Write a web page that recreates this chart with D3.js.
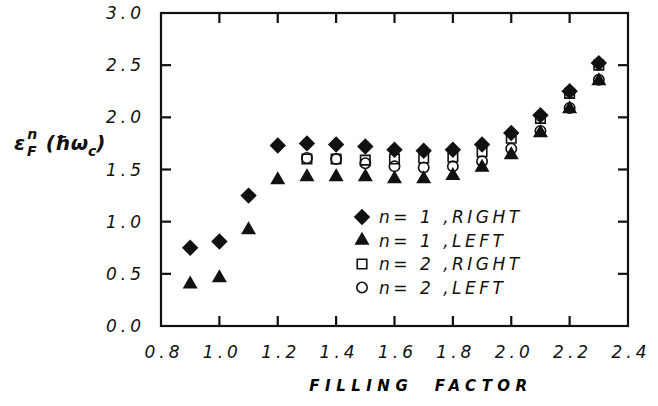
<!DOCTYPE html>
<html>
<head>
<meta charset="utf-8">
<script src="https://d3js.org/d3.v7.min.js"></script>
<style>
  body { margin: 0; background: white; }
  .tick-label { font-family: "DejaVu Sans", sans-serif; font-style: italic; font-size: 17px; letter-spacing: 4px; fill: #111; }
  .legend-text { font-family: "DejaVu Sans", sans-serif; font-style: italic; font-size: 17px; letter-spacing: 3.5px; fill: #111; }
  .frame { fill: none; stroke: #111; stroke-width: 2.2px; }
  .tick { stroke: #111; stroke-width: 2.2px; }
</style>
</head>
<body>
<svg id="chart" width="658" height="406"></svg>
<script>
  // values
  const xTicks = [0.8, 1.0, 1.2, 1.4, 1.6, 1.8, 2.0, 2.2, 2.4];
  const yTicks = [0.0, 0.5, 1.0, 1.5, 2.0, 2.5, 3.0];

  const n1Right = [[0.9,0.75],[1.0,0.81],[1.1,1.25],[1.2,1.73],[1.3,1.75],[1.4,1.74],[1.5,1.72],[1.6,1.69],
                   [1.7,1.68],[1.8,1.69],[1.9,1.74],[2.0,1.85],[2.1,2.02],[2.2,2.25],[2.3,2.52]];
  const n1Left  = [[0.9,0.40],[1.0,0.46],[1.1,0.92],[1.2,1.40],[1.3,1.43],[1.4,1.43],[1.5,1.43],[1.6,1.41],
                   [1.7,1.41],[1.8,1.44],[1.9,1.52],[2.0,1.64],[2.1,1.85],[2.2,2.08],[2.3,2.35]];
  const n2Right = [[1.3,1.60],[1.4,1.60],[1.5,1.59],[1.6,1.60],[1.7,1.61],[1.8,1.62],[1.9,1.67],[2.0,1.80],
                   [2.1,1.99],[2.2,2.23],[2.3,2.50]];
  const n2Left  = [[1.3,1.61],[1.4,1.60],[1.5,1.56],[1.6,1.53],[1.7,1.52],[1.8,1.53],[1.9,1.58],[2.0,1.70],
                   [2.1,1.87],[2.2,2.09],[2.3,2.36]];
  const legendLabels = ["n= 1 ,RIGHT", "n= 1 ,LEFT", "n= 2 ,RIGHT", "n= 2 ,LEFT"];

  const svg = d3.select("#chart");
  const pLeft = 161, pRight = 628, pTop = 13, pBottom = 326;

  const x = d3.scaleLinear().domain([0.8, 2.4]).range([pLeft, pRight]);
  const y = d3.scaleLinear().domain([0, 3]).range([pBottom, pTop]);

  // frame
  svg.append("rect").attr("class", "frame")
    .attr("x", pLeft).attr("y", pTop).attr("width", pRight - pLeft).attr("height", pBottom - pTop);

  const tl = 10;
  const g = svg.append("g");
  xTicks.slice(1, -1).forEach(v => {
    g.append("line").attr("class", "tick").attr("x1", x(v)).attr("x2", x(v)).attr("y1", pBottom).attr("y2", pBottom - tl);
    g.append("line").attr("class", "tick").attr("x1", x(v)).attr("x2", x(v)).attr("y1", pTop).attr("y2", pTop + tl);
  });
  yTicks.slice(1, -1).forEach(v => {
    g.append("line").attr("class", "tick").attr("x1", pLeft).attr("x2", pLeft + tl).attr("y1", y(v)).attr("y2", y(v));
    g.append("line").attr("class", "tick").attr("x1", pRight).attr("x2", pRight - tl).attr("y1", y(v)).attr("y2", y(v));
  });

  svg.selectAll("text.xt").data(xTicks).join("text")
    .attr("class", "tick-label")
    .attr("x", d => x(d) + 3).attr("y", 358)
    .attr("text-anchor", "middle")
    .text(d => d.toFixed(1));

  svg.selectAll("text.yt").data(yTicks).join("text")
    .attr("class", "tick-label")
    .attr("x", 145).attr("y", d => y(d) + 6)
    .attr("text-anchor", "end")
    .text(d => d.toFixed(1));

  // axis titles
  svg.append("text")
    .attr("x", 421).attr("y", 391)
    .attr("text-anchor", "middle")
    .style("font-family", "DejaVu Sans, sans-serif")
    .style("font-style", "italic").style("font-weight", "bold")
    .style("font-size", "15px").style("letter-spacing", "5.5px")
    .text("FILLING\u00a0\u00a0FACTOR");

  const yl = svg.append("text")
    .attr("x", 14).attr("y", 150)
    .style("font-family", "DejaVu Sans, sans-serif")
    .style("font-style", "italic").style("font-weight", "bold")
    .style("font-size", "20px").style("fill", "#111");
  yl.append("tspan").text("ε");
  yl.append("tspan").attr("dy", -11).attr("dx", 2).style("font-size", "14px").text("n");
  yl.append("tspan").attr("dy", 17).attr("dx", -10).style("font-size", "14px").text("F");
  yl.append("tspan").attr("dy", -6).attr("dx", 9).text("(ħω");
  yl.append("tspan").attr("dy", 6).style("font-size", "14px").text("c");
  yl.append("tspan").attr("dy", -6).text(")");

  // markers
  const sym = (type, size) => d3.symbol().type(type).size(size)();

  function drawSeries(data, path, fill, stroke, rotate) {
    svg.append("g").selectAll("path").data(data).join("path")
      .attr("d", path)
      .attr("transform", d => `translate(${x(d[0])},${y(d[1])})` + (rotate ? " rotate(45)" : ""))
      .attr("fill", fill)
      .attr("stroke", stroke)
      .attr("stroke-width", 1.6);
  }

  const squarePath = sym(d3.symbolSquare, 90);
  const circlePath = sym(d3.symbolCircle, 85);
  const trianglePath = sym(d3.symbolTriangle, 65);
  const diamondPath = sym(d3.symbolSquare, 100);

  drawSeries(n2Left, circlePath, "none", "#111", false);
  drawSeries(n2Right, squarePath, "none", "#111", false);
  drawSeries(n1Left, trianglePath, "#111", "#111", false);
  drawSeries(n1Right, diamondPath, "#111", "#111", true);

  // legend
  const legPaths = [diamondPath, trianglePath, squarePath, circlePath];
  const legFill = ["#111", "#111", "none", "none"];
  const legRot = [true, false, false, false];
  legendLabels.forEach((t, i) => {
    const ly = 217 + i * 23.5;
    svg.append("path").attr("d", legPaths[i])
      .attr("transform", `translate(362,${ly})` + (legRot[i] ? " rotate(45)" : ""))
      .attr("fill", legFill[i]).attr("stroke", "#111").attr("stroke-width", 1.6);
    svg.append("text").attr("class", "legend-text")
      .attr("x", 379).attr("y", ly + 6).text(t);
  });
</script>
</body>
</html>
